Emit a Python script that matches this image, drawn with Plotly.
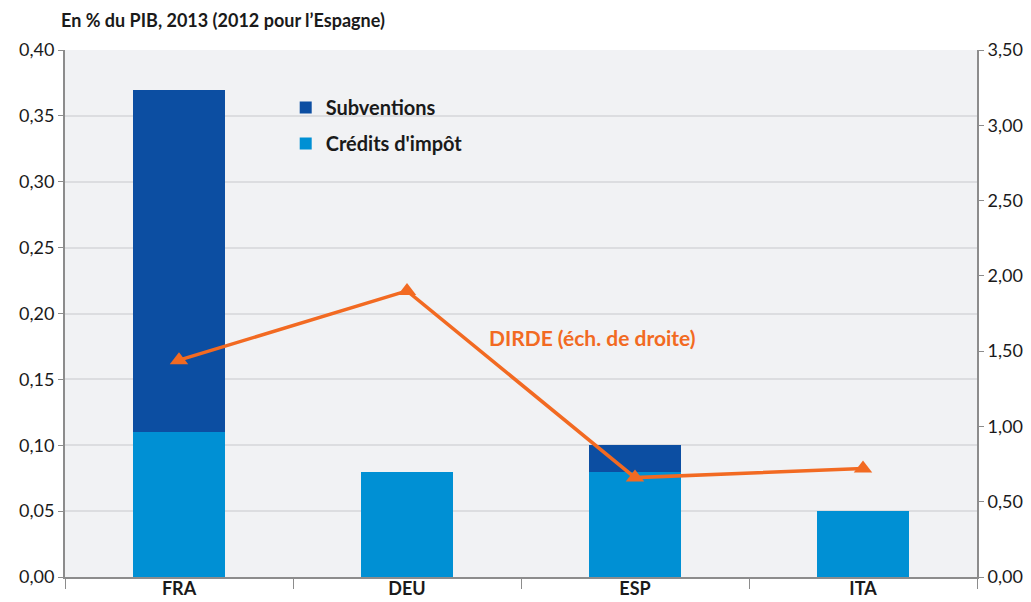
import plotly.graph_objects as go

categories = ["FRA", "DEU", "ESP", "ITA"]
credits_impot = [0.11, 0.08, 0.08, 0.05]
subventions = [0.26, 0.0, 0.02, 0.0]
dirde = [1.44, 1.90, 0.66, 0.72]

left_ticks = [0, 0.05, 0.10, 0.15, 0.20, 0.25, 0.30, 0.35, 0.40]
right_ticks = [0, 0.5, 1.0, 1.5, 2.0, 2.5, 3.0, 3.5]

FONT = "Lato"
axis_col = "#8c8c8c"

fig = go.Figure()
fig.add_trace(go.Bar(x=categories, y=credits_impot, name="Crédits d'impôt", legendgroup="b",
                     legendrank=2, marker=dict(color="#0090d4", line=dict(width=0))))
fig.add_trace(go.Bar(x=categories, y=subventions, name="Subventions", legendgroup="a",
                     legendrank=1, marker=dict(color="#0c4ea2", line=dict(width=0))))
fig.add_trace(go.Scatter(x=categories, y=dirde, yaxis="y2", mode="lines+markers",
                         name="DIRDE (éch. de droite)", showlegend=False,
                         line=dict(color="#f26a22", width=3.5),
                         marker=dict(symbol="triangle-up", size=16, color="#f26a22")))

fig.update_layout(
    width=1031, height=602,
    margin=dict(l=65, r=54, t=50, b=25),
    paper_bgcolor="white", plot_bgcolor="#f1f2f4",
    barmode="stack", bargap=0.6,
    separators=", ",
    font=dict(family=FONT, size=18, color="#1a1a1a"),
    showlegend=True,
    legend=dict(x=0.242, y=0.928, xanchor="left", yanchor="top",
                traceorder="grouped", bgcolor="rgba(0,0,0,0)",
                font=dict(family=FONT, size=20, color="#1a1a1a", weight="bold"),
                itemwidth=30, tracegroupgap=7),
    xaxis=dict(showgrid=False, showline=True, linecolor=axis_col, linewidth=2,
               ticks="outside", tickson="boundaries", ticklen=10, tickcolor=axis_col,
               automargin=False, ticklabelstandoff=-6,
               tickfont=dict(family=FONT, size=18, weight="bold", color="#1a1a1a")),
    yaxis=dict(range=[0, 0.4], tickvals=left_ticks, tickformat=".2f",
               showgrid=True, gridcolor="#dcdde0", gridwidth=1.5,
               showline=True, linecolor=axis_col, linewidth=2,
               ticks="outside", ticklen=5, tickcolor=axis_col, automargin=False,
               tickfont=dict(family=FONT, size=18), zeroline=False),
    yaxis2=dict(range=[0, 3.5], tickvals=right_ticks, tickformat=".2f",
                overlaying="y", side="right", showgrid=False,
                showline=True, linecolor=axis_col, linewidth=2,
                ticks="outside", ticklen=5, tickcolor=axis_col, automargin=False,
                tickfont=dict(family=FONT, size=18), zeroline=False),
    annotations=[
        dict(text="<b>En % du PIB, 2013 (2012 pour l\u2019Espagne)</b>", xref="paper", yref="paper",
             x=-(65 - 59) / 912, y=(577 - 20) / 527, xanchor="left", yanchor="middle", showarrow=False,
             font=dict(family=FONT, size=18, color="#1a1a1a")),
        dict(text="<b>DIRDE (éch. de droite)</b>", xref="paper", yref="paper",
             x=(487 - 65) / 912, y=(577 - 337) / 527, xanchor="left", yanchor="middle",
             showarrow=False, font=dict(family=FONT, size=21, color="#f26a22")),
    ],
)

fig.write_html("out.html", config={"displayModeBar": False},
               post_script="document.body.style.margin='0';document.body.style.padding='0';")
